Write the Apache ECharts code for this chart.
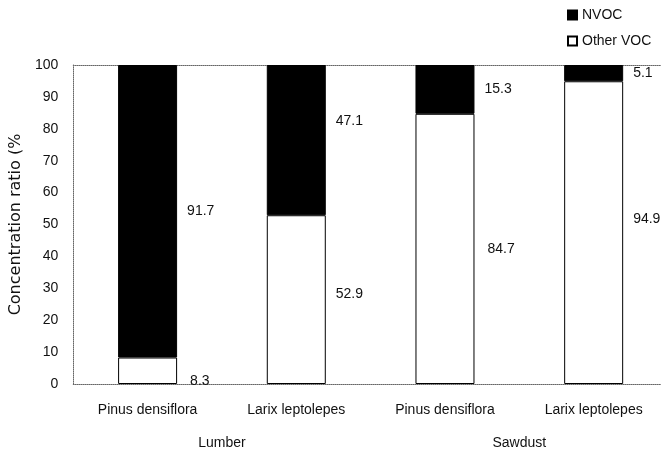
<!DOCTYPE html>
<html>
<head>
<meta charset="utf-8">
<script src="https://cdn.jsdelivr.net/npm/echarts@6/dist/echarts.min.js"></script>
<style>
  html, body { margin: 0; padding: 0; background: #fff; overflow: hidden; }
  /* a bit wider than the window: the plot runs past the right edge, as in the original */
  #chart { width: 668px; height: 454px; }
</style>
</head>
<body>
<div id="chart"></div>
<script>
// data
const species = ['Pinus densiflora', 'Larix leptolepes', 'Pinus densiflora', 'Larix leptolepes']
const groups = ['Lumber', 'Sawdust']
const otherVoc = [8.3, 52.9, 84.7, 94.9]
const nvoc = [91.7, 47.1, 15.3, 5.1]
const yTicks = [0, 10, 20, 30, 40, 50, 60, 70, 80, 90, 100]

// small label nudges so the numbers sit where the original put them
const nvocNudge = [[0, 0], [0, -19], [0, 0], [0, 0]]
const otherNudge = [[3, 10], [0, -5], [3, 0], [0, -13]]

const font = 'Liberation Sans'
const ink = '#111'
const dotted = { color: '#666', width: 1, type: [1, 1] }

const myChart = echarts.init(document.getElementById('chart'))

const withLabels = (values, nudge) => values.map((v, i) => ({
    value: v,
    label: { offset: nudge[i] }
}))

const option = {
    animation: false,
    textStyle: { fontFamily: font, color: ink },
    legend: {
        orient: 'vertical',
        left: 567,
        top: 8,
        padding: 0,
        itemWidth: 9,
        itemHeight: 9,
        itemGap: 12,
        icon: 'rect',
        data: ['NVOC', 'Other VOC'],
        textStyle: { fontFamily: font, fontSize: 14, color: ink }
    },
    grid: { left: 71, top: 65, right: 0, height: 319 },
    xAxis: [
        {
            type: 'category',
            data: species,
            position: 'bottom',
            axisLine: { lineStyle: dotted },
            axisTick: { show: false },
            axisLabel: { margin: 19, fontSize: 14, color: ink, fontFamily: font }
        },
        {
            type: 'category',
            data: groups,
            position: 'bottom',
            axisLine: { show: false },
            axisTick: { show: false },
            axisLabel: { margin: 52, fontSize: 14, color: ink, fontFamily: font }
        },
        {
            type: 'category',
            data: species,
            position: 'top',
            axisLine: { lineStyle: dotted },
            axisTick: { show: false },
            axisLabel: { show: false }
        }
    ],
    yAxis: {
        type: 'value',
        min: yTicks[0],
        max: yTicks[yTicks.length - 1],
        interval: 10,
        name: 'Concentration ratio (%',
        nameLocation: 'middle',
        nameGap: 47,
        nameTextStyle: { fontSize: 16, color: ink, fontFamily: 'DejaVu Sans' },
        axisLine: { show: true, lineStyle: dotted },
        axisTick: { show: false },
        splitLine: { show: false },
        axisLabel: { margin: 15, fontSize: 14, color: ink, fontFamily: font }
    },
    series: [
        {
            name: 'Other VOC',
            type: 'bar',
            stack: 'voc',
            barWidth: 59,
            itemStyle: { color: '#fff', borderColor: '#000', borderWidth: 1 },
            label: {
                show: true,
                position: 'right',
                distance: 10,
                fontSize: 14,
                color: ink,
                fontFamily: font
            },
            data: withLabels(otherVoc, otherNudge)
        },
        {
            name: 'NVOC',
            type: 'bar',
            stack: 'voc',
            barWidth: 59,
            itemStyle: { color: '#000', borderColor: '#000', borderWidth: 1 },
            label: {
                show: true,
                position: 'right',
                distance: 10,
                fontSize: 14,
                color: ink,
                fontFamily: font
            },
            data: withLabels(nvoc, nvocNudge)
        }
    ]
}

myChart.setOption(option)
</script>
</body>
</html>
